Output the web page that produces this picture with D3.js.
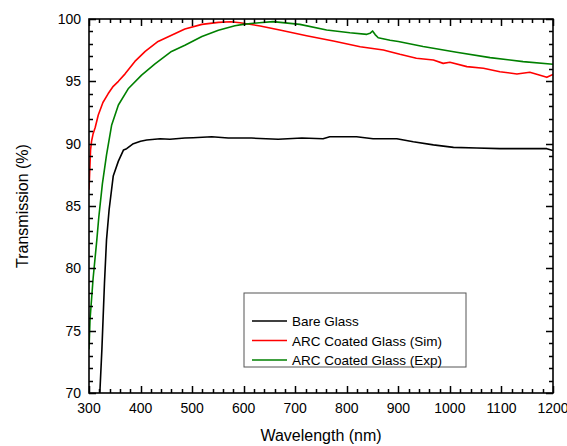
<!DOCTYPE html>
<html>
<head>
<meta charset="utf-8">
<script src="https://cdn.jsdelivr.net/npm/d3@7"></script>
<style>
  body { margin: 0; background: #fff; }
  text { font-family: "Liberation Sans", Arial, sans-serif; fill: #000; }
  .tick-label { font-size: 14px; }
  .axis-title { font-size: 16px; }
  .legend-text { font-size: 13.5px; }
</style>
</head>
<body>
<svg id="chart"></svg>
<script>
// Bare glass (black)
const bareWl = [321, 325, 330, 334, 339, 347, 357, 367, 373, 386, 400, 412, 438, 457, 486, 502, 538, 570, 615, 667, 713, 754, 767, 819, 851, 897, 929, 968, 1007, 1052, 1097, 1150, 1188, 1200];
const bareT = [70.0, 73.5, 78.8, 82.3, 84.7, 87.4, 88.6, 89.5, 89.6, 90.0, 90.2, 90.3, 90.4, 90.35, 90.45, 90.48, 90.55, 90.45, 90.45, 90.35, 90.45, 90.4, 90.55, 90.55, 90.4, 90.4, 90.15, 89.9, 89.7, 89.65, 89.6, 89.6, 89.6, 89.45];

// ARC coated glass, simulated (red)
const simWl = [300, 303, 305, 308, 312, 318, 327, 337, 347, 357, 370, 389, 409, 434, 460, 486, 519, 551, 575, 593, 632, 670, 722, 774, 826, 871, 884, 903, 935, 968, 987, 1000, 1033, 1065, 1097, 1130, 1155, 1170, 1188, 1200];
const simT = [86.3, 89.5, 90.2, 90.8, 91.3, 92.3, 93.3, 94.0, 94.6, 95.0, 95.6, 96.6, 97.4, 98.2, 98.7, 99.2, 99.57, 99.73, 99.78, 99.7, 99.44, 99.12, 98.66, 98.24, 97.78, 97.51, 97.38, 97.17, 96.85, 96.71, 96.44, 96.53, 96.18, 96.05, 95.77, 95.59, 95.73, 95.55, 95.32, 95.56];

// ARC coated glass, experimental (green)
const expWl = [300, 302, 308, 315, 319, 326, 334, 344, 357, 376, 402, 428, 460, 486, 519, 551, 583, 599, 630, 657, 709, 761, 806, 839, 845, 850, 855, 861, 884, 900, 948, 1013, 1078, 1142, 1200];
const expT = [73.5, 75.9, 79.2, 82.2, 84.1, 86.8, 89.1, 91.5, 93.1, 94.4, 95.5, 96.4, 97.4, 97.9, 98.6, 99.1, 99.46, 99.57, 99.7, 99.79, 99.57, 99.12, 98.9, 98.77, 98.85, 99.04, 98.75, 98.5, 98.3, 98.2, 97.8, 97.33, 96.9, 96.58, 96.37];

const seriesNames = ["Bare Glass", "ARC Coated Glass (Sim)", "ARC Coated Glass (Exp)"];
const seriesColors = ["#000000", "#ff0000", "#008000"];

const xTicks = [300, 400, 500, 600, 700, 800, 900, 1000, 1100, 1200];
const yTicks = [70, 75, 80, 85, 90, 95, 100];
const xMinor = d3.range(300, 1201, 20);
const yMinor = d3.range(70, 101, 1);

const width = 567, height = 446;
const margin = {top: 19, right: 14, bottom: 53, left: 89};
const innerW = width - margin.left - margin.right;
const innerH = height - margin.top - margin.bottom;

const svg = d3.select("#chart").attr("width", width).attr("height", height);
const chart = svg.append("g").attr("transform", `translate(${margin.left},${margin.top})`);

const x = d3.scaleLinear().domain([300, 1200]).range([0, innerW]);
const y = d3.scaleLinear().domain([70, 100]).range([innerH, 0]);

svg.append("defs").append("clipPath").attr("id", "plot-clip")
  .append("rect").attr("width", innerW).attr("height", innerH);

// Lines
const series = [
  {wl: bareWl, t: bareT},
  {wl: simWl, t: simT},
  {wl: expWl, t: expT}
];
const line = d3.line().x(d => x(d[0])).y(d => y(d[1]));

const lineG = chart.append("g").attr("clip-path", "url(#plot-clip)");
series.forEach((s, i) => {
  lineG.append("path")
    .datum(s.wl.map((w, j) => [w, s.t[j]]))
    .attr("fill", "none")
    .attr("stroke", seriesColors[i])
    .attr("stroke-width", 1.6)
    .attr("stroke-linejoin", "round")
    .attr("d", line);
});

// Inward ticks on all four sides, drawn as one path
const tickPath = d3.path();
xMinor.forEach(v => {
  const len = xTicks.includes(v) ? 7 : 4;
  const px = Math.round(x(v)) + 0.5;
  tickPath.moveTo(px, innerH); tickPath.lineTo(px, innerH - len);
  tickPath.moveTo(px, 0); tickPath.lineTo(px, len);
});
yMinor.forEach(v => {
  const len = yTicks.includes(v) ? 7 : 4;
  const py = Math.round(y(v)) + 0.5;
  tickPath.moveTo(0, py); tickPath.lineTo(len, py);
  tickPath.moveTo(innerW, py); tickPath.lineTo(innerW - len, py);
});
chart.append("path")
  .attr("d", tickPath.toString())
  .attr("fill", "none")
  .attr("stroke", "#000")
  .attr("stroke-width", 1.5);

chart.append("rect")
  .attr("width", innerW).attr("height", innerH)
  .attr("fill", "none").attr("stroke", "#000").attr("stroke-width", 1.6);

// Tick labels
chart.selectAll(".x-label").data(xTicks).join("text")
  .attr("class", "tick-label x-label")
  .attr("x", d => x(d)).attr("y", innerH + 20)
  .attr("text-anchor", "middle")
  .text(d => d);

chart.selectAll(".y-label").data(yTicks).join("text")
  .attr("class", "tick-label y-label")
  .attr("x", -8).attr("y", d => y(d) + 5)
  .attr("text-anchor", "end")
  .text(d => d);

// Axis titles
svg.append("text").attr("class", "axis-title")
  .attr("x", margin.left + innerW / 2).attr("y", 441)
  .attr("text-anchor", "middle")
  .text("Wavelength (nm)");

svg.append("text").attr("class", "axis-title")
  .attr("transform", `translate(28,${margin.top + innerH / 2}) rotate(-90)`)
  .attr("text-anchor", "middle")
  .text("Transmission (%)");

// Legend
const legend = svg.append("g").attr("transform", "translate(244,293)");
legend.append("rect")
  .attr("width", 222).attr("height", 74)
  .attr("fill", "#fff").attr("stroke", "#555").attr("stroke-width", 1);

seriesNames.forEach((name, i) => {
  const ly = 28 + i * 19.5;
  legend.append("line")
    .attr("x1", 8).attr("x2", 43).attr("y1", ly).attr("y2", ly)
    .attr("stroke", seriesColors[i]).attr("stroke-width", 1.6);
  legend.append("text").attr("class", "legend-text")
    .attr("x", 48).attr("y", ly + 5)
    .text(name);
});
</script>
</body>
</html>
